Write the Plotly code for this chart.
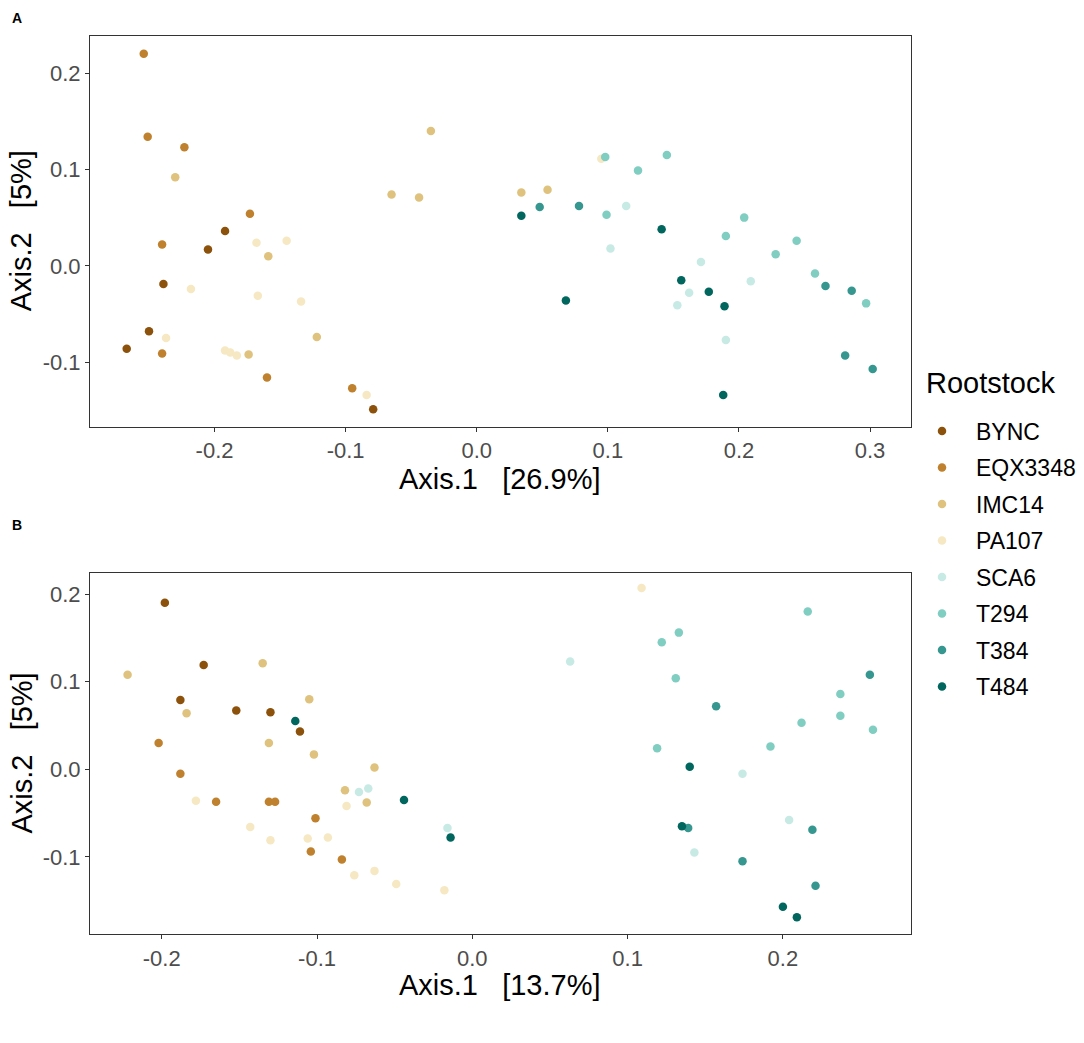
import plotly.graph_objects as go
from plotly.subplots import make_subplots

rootstocks = ["BYNC", "EQX3348", "IMC14", "PA107", "SCA6", "T294", "T384", "T484"]
palette = ["#8C510A", "#BF812D", "#DFC27D", "#F6E8C3",
           "#C7EAE5", "#80CDC1", "#35978F", "#01665E"]

# panel A: PCoA axis 1 / axis 2 coordinates per sample
a_group = (["BYNC"] * 6 + ["EQX3348"] * 8 + ["IMC14"] * 9 + ["PA107"] * 11
           + ["SCA6"] * 7 + ["T294"] * 10 + ["T384"] * 6 + ["T484"] * 7)
a_x = [-0.192, -0.205, -0.239, -0.250, -0.267, -0.079,
       -0.254, -0.251, -0.223, -0.173, -0.240, -0.240, -0.160, -0.095,
       -0.230, -0.035, -0.065, -0.044, -0.159, -0.122, -0.174, 0.034, 0.054,
       -0.168, -0.145, -0.218, -0.167, -0.134, -0.237, -0.192, -0.188, -0.183, -0.084, 0.095,
       0.114, 0.102, 0.171, 0.209, 0.162, 0.153, 0.190,
       0.098, 0.145, 0.123, 0.099, 0.204, 0.190, 0.244, 0.228, 0.258, 0.297,
       0.048, 0.078, 0.266, 0.286, 0.281, 0.302,
       0.034, 0.141, 0.156, 0.177, 0.068, 0.189, 0.188]
a_y = [0.036, 0.017, -0.019, -0.068, -0.086, -0.149,
       0.220, 0.134, 0.123, 0.054, 0.022, -0.091, -0.116, -0.127,
       0.092, 0.140, 0.074, 0.071, 0.010, -0.074, -0.092, 0.076, 0.079,
       0.024, 0.026, -0.024, -0.031, -0.037, -0.075, -0.088, -0.090, -0.093, -0.134, 0.111,
       0.062, 0.018, 0.004, -0.016, -0.028, -0.041, -0.077,
       0.113, 0.115, 0.099, 0.053, 0.050, 0.031, 0.026, 0.012, -0.008, -0.039,
       0.061, 0.062, -0.021, -0.026, -0.093, -0.107,
       0.052, 0.038, -0.015, -0.027, -0.036, -0.042, -0.134]

# panel B
b_group = list(a_group)
b_x = [-0.198, -0.173, -0.188, -0.152, -0.130, -0.111,
       -0.202, -0.188, -0.165, -0.131, -0.127, -0.101, -0.104, -0.084,
       -0.222, -0.135, -0.184, -0.105, -0.131, -0.102, -0.063, -0.082, -0.068,
       -0.178, -0.081, -0.143, -0.130, -0.106, -0.093, -0.076, -0.063, -0.049, -0.018, 0.109,
       -0.073, -0.067, -0.016, 0.063, 0.174, 0.204, 0.143,
       0.216, 0.133, 0.122, 0.131, 0.237, 0.237, 0.212, 0.258, 0.119, 0.192,
       0.256, 0.157, 0.219, 0.139, 0.174, 0.221,
       -0.114, -0.044, -0.014, 0.140, 0.135, 0.200, 0.209]
b_y = [0.190, 0.119, 0.079, 0.067, 0.065, 0.043,
       0.030, -0.005, -0.037, -0.037, -0.037, -0.056, -0.094, -0.103,
       0.108, 0.121, 0.064, 0.080, 0.030, 0.017, 0.002, -0.024, -0.038,
       -0.036, -0.042, -0.066, -0.081, -0.079, -0.078, -0.121, -0.116, -0.131, -0.138, 0.207,
       -0.026, -0.022, -0.067, 0.123, -0.005, -0.058, -0.095,
       0.180, 0.156, 0.145, 0.104, 0.086, 0.061, 0.053, 0.045, 0.024, 0.026,
       0.108, 0.072, -0.069, -0.067, -0.105, -0.133,
       0.055, -0.035, -0.078, 0.003, -0.065, -0.157, -0.169]

a_xticks = [-0.2, -0.1, 0.0, 0.1, 0.2, 0.3]
a_xlabels = ["-0.2", "-0.1", "0.0", "0.1", "0.2", "0.3"]
b_xticks = [-0.2, -0.1, 0.0, 0.1, 0.2]
b_xlabels = ["-0.2", "-0.1", "0.0", "0.1", "0.2"]
yticks = [-0.1, 0.0, 0.1, 0.2]
ylabels = ["-0.1", "0.0", "0.1", "0.2"]

FONT = "Liberation Sans, Arial, sans-serif"
SP = "\u00a0" * 3

# the page body adds an 8px offset, so the figure is a bit smaller
OFF = 8
W, H = 1084 - OFF, 1043 - OFF


def px(x):
    return (x - OFF) / W


def py(y):
    return 1 - (y - OFF) / H


fig = make_subplots(rows=2, cols=1)

for row, (xs, ys, gs) in enumerate([(a_x, a_y, a_group), (b_x, b_y, b_group)], start=1):
    for name, col in zip(rootstocks, palette):
        sx = [x for x, g in zip(xs, gs) if g == name]
        sy = [y for y, g in zip(ys, gs) if g == name]
        fig.add_trace(
            go.Scatter(
                x=sx, y=sy, mode="markers", name=name,
                legendgroup=name, showlegend=(row == 1),
                marker=dict(color=col, size=8.5, line=dict(width=0)),
            ),
            row=row, col=1,
        )

axis_style = dict(
    showgrid=False, zeroline=False, showline=True, mirror=True,
    linecolor="#333333", linewidth=1.1,
    ticks="outside", ticklen=4, tickwidth=1.1, tickcolor="#333333",
    tickfont=dict(family=FONT, size=22, color="#4D4D4D"),
)

fig.update_xaxes(axis_style)
fig.update_yaxes(axis_style)

x0, x1 = px(90), px(910.7)
fig.update_layout(
    xaxis=dict(domain=[x0, x1], range=[-0.295, 0.331],
               tickvals=a_xticks, ticktext=a_xlabels),
    yaxis=dict(domain=[py(426.7), py(36)], range=[-0.167, 0.2385],
               tickvals=yticks, ticktext=ylabels),
    xaxis2=dict(domain=[x0, x1], range=[-0.2462, 0.2823],
                tickvals=b_xticks, ticktext=b_xlabels),
    yaxis2=dict(domain=[py(934.3), py(572.7)], range=[-0.1884, 0.2244],
                tickvals=yticks, ticktext=ylabels),
)

# axis titles, panel letters, legend title
title_font = dict(family=FONT, size=29, color="black")
notes = [
    dict(text="Axis.1" + SP + "[26.9%]", x=(x0 + x1) / 2, y=py(479), font=title_font),
    dict(text="Axis.1" + SP + "[13.7%]", x=(x0 + x1) / 2, y=py(985), font=title_font),
    dict(text="Axis.2" + SP + "[5%]", x=px(21), y=py(231.3), font=title_font, textangle=-90),
    dict(text="Axis.2" + SP + "[5%]", x=px(21), y=py(753.5), font=title_font, textangle=-90),
    dict(text="<b>A</b>", x=px(16.5), y=py(18),
         font=dict(family=FONT, size=14, color="black")),
    dict(text="<b>B</b>", x=px(16.5), y=py(525),
         font=dict(family=FONT, size=14, color="black")),
]
for n in notes:
    fig.add_annotation(xref="paper", yref="paper", showarrow=False,
                       xanchor="center", yanchor="middle", **n)
fig.add_annotation(xref="paper", yref="paper", showarrow=False,
                   text="Rootstock", x=px(924), y=py(383),
                   xanchor="left", yanchor="middle",
                   font=dict(family=FONT, size=29, color="black"))

fig.update_layout(
    width=W, height=H,
    margin=dict(l=0, r=0, t=0, b=0),
    plot_bgcolor="white", paper_bgcolor="white",
    font=dict(family=FONT),
    legend=dict(
        font=dict(family=FONT, size=23, color="black"),
        x=px(908), xanchor="left", y=py(409.5), yanchor="top",
        itemwidth=58, tracegroupgap=3.6, bgcolor="rgba(0,0,0,0)",
    ),
)

fig.write_html("out.html")
